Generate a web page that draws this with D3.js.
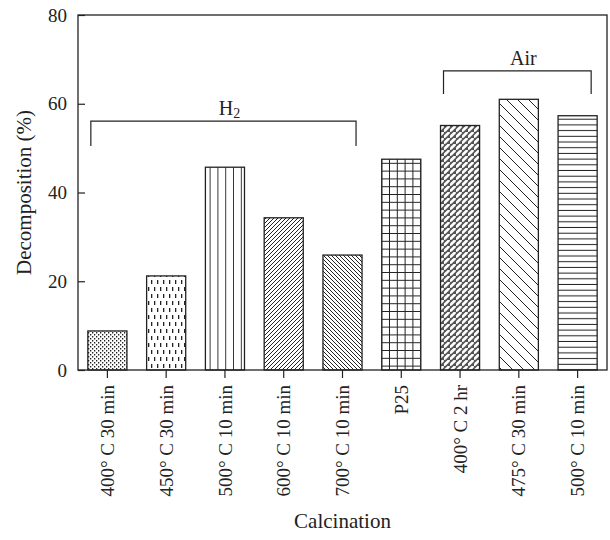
<!DOCTYPE html>
<html>
<head>
<meta charset="utf-8">
<script src="https://cdn.jsdelivr.net/npm/d3@7"></script>
<style>
  body { margin: 0; background: #fff; }
  text { font-family: "Liberation Serif", "DejaVu Serif", serif; fill: #222; }
</style>
</head>
<body>
<div id="chart"></div>
<script>
// data
var categories = ["400° C 30 min", "450° C 30 min", "500° C 10 min", "600° C 10 min",
  "700° C 10 min", "P25", "400° C 2 hr", "475° C 30 min", "500° C 10 min"];
var decomposition = [8.8, 21.2, 45.7, 34.3, 25.9, 47.5, 55.1, 61.0, 57.3];
var yTicks = [0, 20, 40, 60, 80];
var groupNames = ["H2", "Air"];
var groupFirst = [0, 6];
var groupLast = [4, 8];
var groupLevel = [56.1, 67.4];
var groupFoot = [50.5, 62.2];

var W = 610, H = 540;
var m = {left: 78, right: 3, top: 15, bottom: 170};

var svg = d3.select('#chart').append('svg')
  .attr('width', W).attr('height', H);

var x = d3.scaleBand()
  .domain(d3.range(categories.length))
  .range([m.left, W - m.right])
  .paddingInner(0.335).paddingOuter(0.335 / 2);

var y = d3.scaleLinear().domain([0, 80]).range([H - m.bottom, m.top]);

// fill patterns, one per bar
var defs = svg.append('defs');
function pat(id, w, h, draw) {
  var p = defs.append('pattern').attr('id', id)
    .attr('patternUnits', 'userSpaceOnUse')
    .attr('width', w).attr('height', h);
  p.append('rect').attr('width', w).attr('height', h).attr('fill', '#fff');
  draw(p);
}
var ink = '#222';
pat('p0', 4, 4, function(p) {
  p.append('rect').attr('x', 0).attr('y', 0).attr('width', 1.3).attr('height', 1.5).attr('fill', ink);
  p.append('rect').attr('x', 2).attr('y', 2).attr('width', 1.3).attr('height', 1.5).attr('fill', ink);
});
pat('p1', 6, 14, function(p) {
  p.append('rect').attr('x', 1).attr('y', 0).attr('width', 1.3).attr('height', 4).attr('fill', ink);
  p.append('rect').attr('x', 4).attr('y', 7).attr('width', 1.3).attr('height', 4).attr('fill', ink);
});
pat('p2', 7.8, 10, function(p) {
  p.append('line').attr('x1', 7.4).attr('x2', 7.4).attr('y1', 0).attr('y2', 10)
    .attr('stroke', ink).attr('stroke-width', 1);
});
pat('p3', 4, 4, function(p) {
  p.append('path').attr('d', 'M-1,1 L1,-1 M0,4 L4,0 M3,5 L5,3')
    .attr('stroke', ink).attr('stroke-width', 1);
});
pat('p4', 4, 4, function(p) {
  p.append('path').attr('d', 'M-1,3 L1,5 M0,0 L4,4 M3,-1 L5,1')
    .attr('stroke', ink).attr('stroke-width', 1);
});
pat('p5', 7.8, 7.8, function(p) {
  p.append('path').attr('d', 'M7.3,0 V7.8 M0,7.3 H7.8')
    .attr('stroke', ink).attr('stroke-width', 1);
});
pat('p6', 6, 6, function(p) {
  p.append('rect').attr('width', 6).attr('height', 6).attr('fill', '#555');
  p.append('path').attr('d', 'M0.8,4.6 L4.6,0.8').attr('stroke', '#fff')
    .attr('stroke-width', 2.6).attr('stroke-linecap', 'round');
});
pat('p7', 11, 11, function(p) {
  p.append('path').attr('d', 'M-1,10 L1,12 M0,0 L11,11 M10,-1 L12,1')
    .attr('stroke', ink).attr('stroke-width', 1);
});
pat('p8', 10, 5.7, function(p) {
  p.append('line').attr('x1', 0).attr('x2', 10).attr('y1', 5.2).attr('y2', 5.2)
    .attr('stroke', ink).attr('stroke-width', 1);
});

// bars
svg.append('g').selectAll('rect')
  .data(decomposition)
  .join('rect')
  .attr('x', function(d, i) { return x(i); })
  .attr('y', function(d) { return y(d); })
  .attr('width', x.bandwidth())
  .attr('height', function(d) { return y(0) - y(d); })
  .attr('fill', function(d, i) { return 'url(#p' + i + ')'; })
  .attr('stroke', ink).attr('stroke-width', 1.3);

// frame
svg.append('rect')
  .attr('x', m.left).attr('y', m.top)
  .attr('width', W - m.right - m.left).attr('height', y(0) - m.top)
  .attr('fill', 'none').attr('stroke', ink).attr('stroke-width', 1.3);

// y axis, ticks pointing in
var yAxis = svg.append('g')
  .attr('transform', 'translate(' + m.left + ',0)')
  .call(d3.axisLeft(y).tickValues(yTicks).tickSizeInner(-7).tickSizeOuter(0).tickPadding(11));
yAxis.select('.domain').remove();
yAxis.selectAll('line').attr('stroke', ink).attr('stroke-width', 1.2);
yAxis.selectAll('text').attr('font-size', 19).attr('fill', ink)
  .style('font-family', '"Liberation Serif", serif');

// x axis, rotated labels
var xAxis = svg.append('g')
  .attr('transform', 'translate(0,' + y(0) + ')')
  .call(d3.axisBottom(x).tickFormat(function(i) { return categories[i]; }).tickSize(8).tickSizeOuter(0));
xAxis.select('.domain').remove();
xAxis.selectAll('line').attr('stroke', ink).attr('stroke-width', 1.2);
xAxis.selectAll('text')
  .attr('font-size', 19).attr('fill', ink)
  .style('font-family', '"Liberation Serif", serif')
  .attr('text-anchor', 'end')
  .attr('transform', 'rotate(-90)')
  .attr('x', -15).attr('y', 0).attr('dy', '0.35em');

// group brackets
groupNames.forEach(function(name, g) {
  var x0 = x(groupFirst[g]) + 3, x1 = x(groupLast[g]) + x.bandwidth() - 6;
  var yl = y(groupLevel[g]), yf = y(groupFoot[g]);
  svg.append('path')
    .attr('d', 'M' + x0 + ',' + yf + ' V' + yl + ' H' + x1 + ' V' + yf)
    .attr('fill', 'none').attr('stroke', ink).attr('stroke-width', 1.2);
  var t = svg.append('text')
    .attr('x', (x0 + x1) / 2 + 6).attr('y', yl - 6)
    .attr('text-anchor', 'middle').attr('font-size', 20);
  if (name === 'H2') {
    t.append('tspan').text('H');
    t.append('tspan').attr('font-size', 14).attr('dy', 3).text('2');
  } else {
    t.text(name);
  }
});

// axis titles
svg.append('text')
  .attr('transform', 'translate(31,' + y(40) + ') rotate(-90)')
  .attr('text-anchor', 'middle').attr('font-size', 21)
  .text('Decomposition (%)');
svg.append('text')
  .attr('x', (m.left + W - m.right) / 2).attr('y', 528)
  .attr('text-anchor', 'middle').attr('font-size', 21)
  .text('Calcination');
</script>
</body>
</html>
